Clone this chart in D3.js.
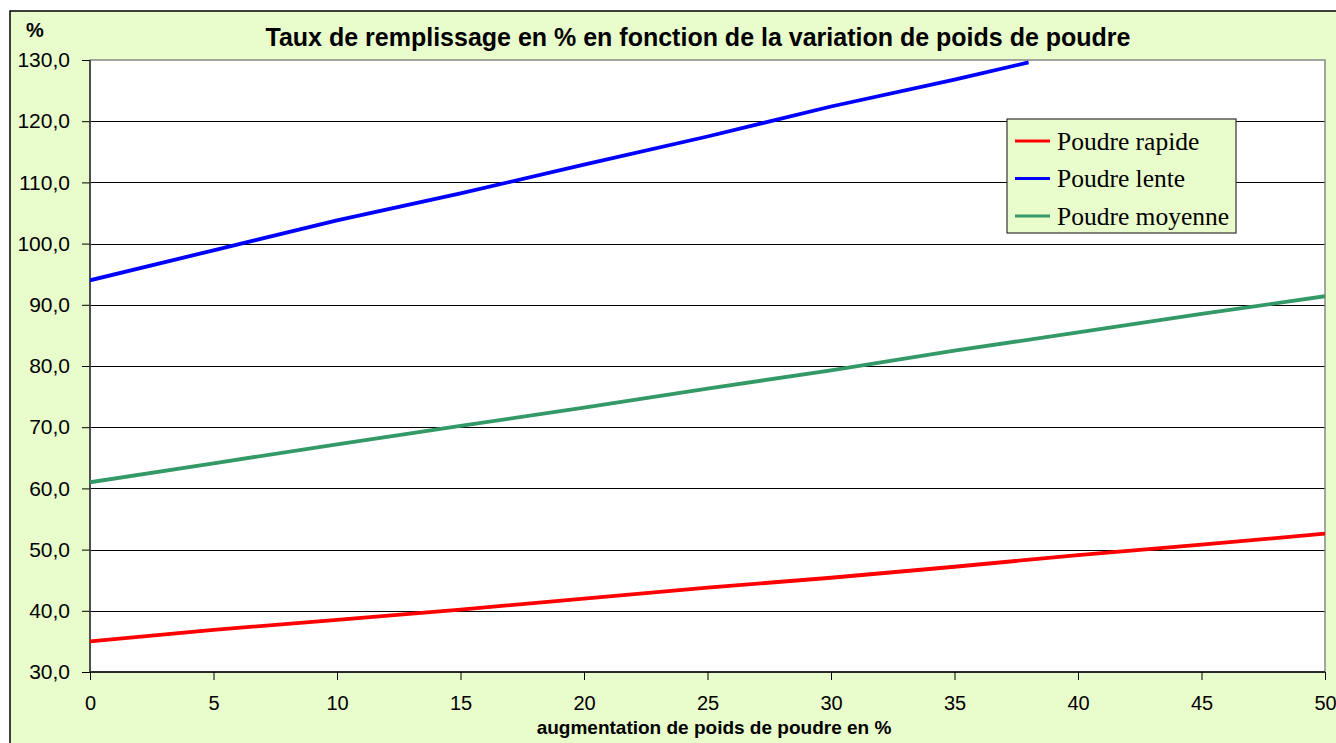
<!DOCTYPE html>
<html>
<head>
<title>Taux de remplissage</title>
<style>
  body { margin: 0; background: #fff; }
  text { font-family: "Liberation Sans", Arial, sans-serif; fill: #000; }
  .axis path { display: none; }
  .axis line { stroke: #000; }
  .grid line { stroke: #000; stroke-width: 1.3px; shape-rendering: crispEdges; }
  .line { fill: none; stroke-width: 3.8px; stroke-linejoin: round; }
</style>
</head>
<body>
<script src="https://cdn.jsdelivr.net/npm/d3@7/dist/d3.min.js"></script>
<script>

var xSteps = [0, 5, 10, 15, 20, 25, 30, 35, 40, 45, 50];
var rapide = [35.0, 36.9, 38.5, 40.2, 42.0, 43.8, 45.4, 47.2, 49.1, 50.8, 52.6];
var moyenne = [61.0, 64.1, 67.2, 70.2, 73.2, 76.3, 79.3, 82.5, 85.5, 88.5, 91.4];
var xLente = [0, 5, 10, 15, 20, 25, 30, 35, 38];
var lente = [94.0, 98.9, 103.8, 108.2, 112.9, 117.5, 122.4, 126.8, 129.6];

var seriesNames = ["Poudre rapide", "Poudre lente", "Poudre moyenne"];
var seriesColors = ["#ff0000", "#0000ff", "#339966"];
var xTicks = [0, 5, 10, 15, 20, 25, 30, 35, 40, 45, 50];
var yTicks = [30, 40, 50, 60, 70, 80, 90, 100, 110, 120, 130];

var W = 1336, H = 743;
var plot = {left: 90, right: 1325, top: 60, bottom: 672};

var svg = d3.select("body").append("svg")
    .attr("width", W)
    .attr("height", H);

// chart area background
svg.append("rect")
    .attr("x", 10).attr("y", 11)
    .attr("width", W).attr("height", H)
    .attr("fill", "#e8fccc")
    .attr("stroke", "#000")
    .attr("stroke-width", 1.5);

var x = d3.scaleLinear().domain([0, 50]).range([plot.left, plot.right]);
var y = d3.scaleLinear().domain([30, 130]).range([plot.bottom, plot.top]);

svg.append("rect")
    .attr("x", plot.left).attr("y", plot.top)
    .attr("width", plot.right - plot.left)
    .attr("height", plot.bottom - plot.top)
    .attr("fill", "#fff");

// gridlines
svg.append("g")
    .attr("class", "grid")
    .selectAll("line")
    .data(yTicks.slice(1, -1))
    .enter().append("line")
    .attr("x1", plot.left).attr("x2", plot.right)
    .attr("y1", function (d) { return Math.round(y(d)) + 0.5; })
    .attr("y2", function (d) { return Math.round(y(d)) + 0.5; });

// plot border
svg.append("rect")
    .attr("x", plot.left).attr("y", plot.top)
    .attr("width", plot.right - plot.left)
    .attr("height", plot.bottom - plot.top)
    .attr("fill", "none")
    .attr("stroke", "#888")
    .attr("stroke-width", 1.5);

var fmt = function (d) { return d3.format(".1f")(d).replace(".", ","); };

var gY = svg.append("g")
    .attr("class", "axis")
    .attr("transform", "translate(" + plot.left + ",0)")
    .call(d3.axisLeft(y).tickValues(yTicks).tickFormat(fmt).tickSize(8).tickPadding(12));
gY.selectAll("text").style("font-size", "21px").style("font-family", "Liberation Sans, Arial, sans-serif");

var gX = svg.append("g")
    .attr("class", "axis")
    .attr("transform", "translate(0," + plot.bottom + ")")
    .call(d3.axisBottom(x).tickValues(xTicks).tickFormat(d3.format("d")).tickSize(8).tickPadding(16));
gX.selectAll("text").style("font-size", "20px").style("font-family", "Liberation Sans, Arial, sans-serif");

// axis lines
svg.append("line")
    .attr("x1", plot.left).attr("x2", plot.right)
    .attr("y1", plot.bottom).attr("y2", plot.bottom)
    .attr("stroke", "#000").attr("stroke-width", 1.5);
svg.append("line")
    .attr("x1", plot.left).attr("x2", plot.left)
    .attr("y1", plot.top).attr("y2", plot.bottom)
    .attr("stroke", "#333").attr("stroke-width", 1.5);

svg.append("clipPath").attr("id", "clip")
  .append("rect")
    .attr("x", plot.left).attr("y", plot.top)
    .attr("width", plot.right - plot.left)
    .attr("height", plot.bottom - plot.top);

var line = d3.line()
    .x(function (d) { return x(d[0]); })
    .y(function (d) { return y(d[1]); });

var series = [
  d3.zip(xSteps, rapide),
  d3.zip(xLente, lente),
  d3.zip(xSteps, moyenne)
];

series.forEach(function (s, i) {
  svg.append("path")
      .datum(s)
      .attr("class", "line")
      .attr("clip-path", "url(#clip)")
      .attr("stroke", seriesColors[i])
      .attr("d", line);
});

// titles
svg.append("text")
    .attr("x", 698).attr("y", 46)
    .attr("text-anchor", "middle")
    .style("font-size", "25px").style("font-weight", "bold")
    .text("Taux de remplissage en % en fonction de la variation de poids de poudre");

svg.append("text")
    .attr("x", 35).attr("y", 37)
    .attr("text-anchor", "middle")
    .style("font-size", "20px").style("font-weight", "bold")
    .text("%");

svg.append("text")
    .attr("x", 714).attr("y", 734)
    .attr("text-anchor", "middle")
    .style("font-size", "19px").style("font-weight", "bold")
    .text("augmentation de poids de poudre en %");

// legend
var legend = svg.append("g").attr("transform", "translate(1007,119)");
legend.append("rect")
    .attr("width", 229).attr("height", 114)
    .attr("fill", "#e8fccc")
    .attr("stroke", "#333")
    .attr("stroke-width", 1.2);

var item = legend.selectAll("g.item")
    .data(seriesNames)
    .enter().append("g")
    .attr("class", "item")
    .attr("transform", function (d, i) { return "translate(0," + (22 + i * 37.5) + ")"; });

item.append("line")
    .attr("x1", 8).attr("x2", 43)
    .attr("stroke", function (d, i) { return seriesColors[i]; })
    .attr("stroke-width", 3);

item.append("text")
    .attr("x", 50).attr("dy", "0.35em")
    .style("font-family", "Liberation Serif, Times New Roman, serif")
    .style("font-size", "25.5px")
    .text(function (d) { return d; });

</script>
</body>
</html>
